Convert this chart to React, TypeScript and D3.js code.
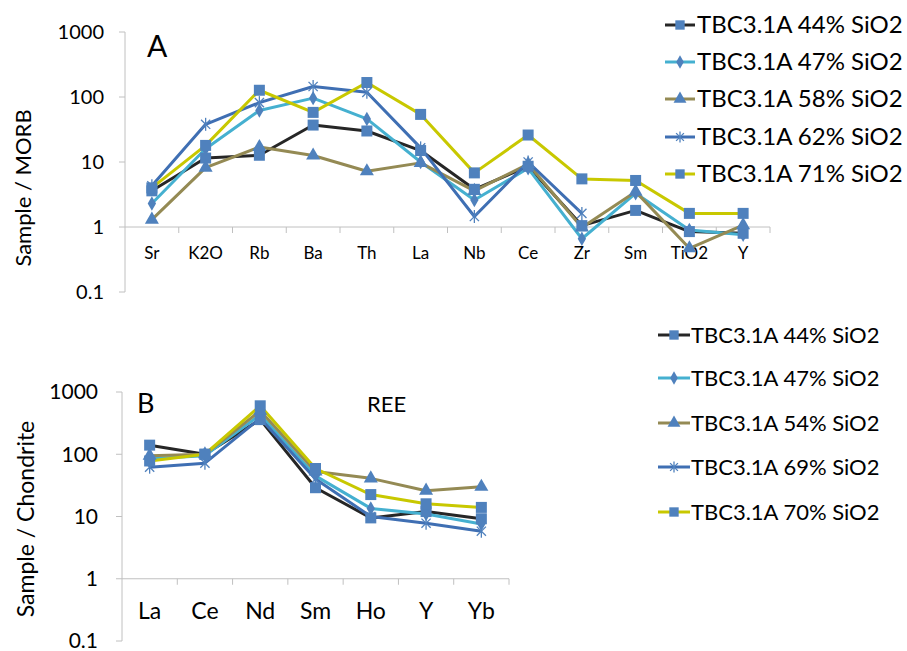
import React from 'react';
import * as d3 from 'd3';

// panel A: trace elements normalised to MORB
const catsA = ['Sr', 'K2O', 'Rb', 'Ba', 'Th', 'La', 'Nb', 'Ce', 'Zr', 'Sm', 'TiO2', 'Y'];
const a44 = [3.6, 11.5, 12.7, 37, 30, 15, 3.8, 8.6, 1.05, 1.8, 0.85, 0.8];
const a47 = [2.3, 16, 62, 96, 46, 10, 2.6, 8, 0.66, 3.3, 0.9, 0.76];
const a58 = [1.3, 8.2, 17, 12.6, 7.2, 9.7, 3.6, 9.3, 0.98, 3.5, 0.47, 1.07];
const a62 = [4.3, 38, 82, 145, 118, 16.5, 1.45, 10, 1.62, null, null, null];
const a71 = [4.0, 18, 127, 58, 167, 54, 6.8, 26, 5.5, 5.2, 1.62, 1.62];
const labelsA = ['TBC3.1A 44% SiO2', 'TBC3.1A 47% SiO2', 'TBC3.1A 58% SiO2', 'TBC3.1A 62% SiO2', 'TBC3.1A 71% SiO2'];

// panel B: REE normalised to chondrite
const catsB = ['La', 'Ce', 'Nd', 'Sm', 'Ho', 'Y', 'Yb'];
const b44 = [140, 100, 360, 29, 9.5, 12, 9.2];
const b47 = [85, 95, 430, 45, 13.5, 11, 7.6];
const b54 = [95, 100, 500, 53, 41, 26, 30];
const b69 = [62, 72, 380, 40, 10, 7.8, 5.8];
const b70 = [78, 100, 600, 59, 22.5, 16, 14];
const labelsB = ['TBC3.1A 44% SiO2', 'TBC3.1A 47% SiO2', 'TBC3.1A 54% SiO2', 'TBC3.1A 69% SiO2', 'TBC3.1A 70% SiO2'];

const yTicks = [0.1, 1, 10, 100, 1000];

const lineColors = ['#262626', '#45b0d0', '#948a54', '#3f6fb3', '#c8c800'];
const markerTypes = ['square', 'diamond', 'triangle', 'star', 'square'];
const markerFill = '#4f81bd';
const axisColor = '#c0c0c0';
const font = 'Lato, "Open Sans", sans-serif';

const Marker = ({ type, x, y, s = 1 }) => {
  if (type === 'square') {
    const h = 5.5 * s;
    return <rect x={x - h} y={y - h} width={h * 2} height={h * 2} fill={markerFill} />;
  }
  if (type === 'star') {
    const r = 6.5 * s;
    const c = r * Math.cos(Math.PI / 4);
    return (
      <g stroke={markerFill} strokeWidth={1.3}>
        <line x1={x} y1={y - r} x2={x} y2={y + r} />
        <line x1={x - c} y1={y - c} x2={x + c} y2={y + c} />
        <line x1={x - c} y1={y + c} x2={x + c} y2={y - c} />
      </g>
    );
  }
  const sym = type === 'diamond' ? d3.symbolDiamond : d3.symbolTriangle;
  const size = type === 'diamond' ? 60 * s : 85 * s;
  return <path d={d3.symbol(sym, size)()} transform={`translate(${x},${y})`} fill={markerFill} />;
};

const Panel = ({ cats, series, box, letter, letterPos, extra, yTitle, catFont, tickFont, titleFont, catY, tickX }) => {
  const x = d3.scaleBand().domain(cats).range([box.left, box.right]);
  const y = d3.scaleLog().domain([0.1, 1000]).range([box.bottom, box.top]);
  const line = d3.line()
    .defined((d) => d != null)
    .x((d, i) => x(cats[i]) + x.bandwidth() / 2)
    .y((d) => y(d));
  const baseY = y(1);
  return (
    <g>
      {/* axes */}
      <line x1={box.left} y1={box.top} x2={box.left} y2={box.bottom} stroke={axisColor} />
      {yTicks.map((t) => (
        <g key={t}>
          <line x1={box.left - 6} x2={box.left} y1={y(t)} y2={y(t)} stroke={axisColor} />
          <text x={tickX} y={y(t)} dy="0.35em" textAnchor="end" fontSize={tickFont} fill="#000">{t}</text>
        </g>
      ))}
      <line x1={box.left} y1={baseY} x2={box.right} y2={baseY} stroke={axisColor} />
      {cats.map((c) => (
        <line key={c} x1={x(c) + x.bandwidth()} x2={x(c) + x.bandwidth()} y1={baseY} y2={baseY + 6} stroke={axisColor} />
      ))}
      {cats.map((c) => (
        <text key={c} x={x(c) + x.bandwidth() / 2} y={catY} textAnchor="middle" fontSize={catFont} fill="#000">{c}</text>
      ))}
      <text transform={`translate(${yTitle.x},${yTitle.y}) rotate(-90)`} textAnchor="middle" fontSize={titleFont} fill="#000">{yTitle.text}</text>
      <text x={letterPos.x} y={letterPos.y} fontSize={letterPos.size} fill="#000">{letter}</text>
      {extra}
      {/* series */}
      {series.map((s, k) => (
        <path key={k} d={line(s)} fill="none" stroke={lineColors[k]} strokeWidth={3} strokeLinejoin="round" />
      ))}
      {series.map((s, k) => (
        <g key={k}>
          {s.map((v, i) => v == null ? null : (
            <Marker key={i} type={markerTypes[k]} x={x(cats[i]) + x.bandwidth() / 2} y={y(v)} />
          ))}
        </g>
      ))}
    </g>
  );
};

const Legend = ({ labels, x0, x1, tx, ys, fontSize }) => (
  <g>
    {labels.map((l, k) => (
      <g key={l}>
        <line x1={x0} x2={x1} y1={ys[k]} y2={ys[k]} stroke={lineColors[k]} strokeWidth={3} />
        <Marker type={markerTypes[k]} x={(x0 + x1) / 2} y={ys[k]} s={0.85} />
        <text x={tx} y={ys[k]} dy="0.35em" fontSize={fontSize} fill="#000">{l}</text>
      </g>
    ))}
  </g>
);

export default function App() {
  return (
    <svg width={907} height={651} style={{ position: 'absolute', left: 0, top: 0, background: '#fff' }} fontFamily={font}>
      <rect width={907} height={651} fill="#fff" />
      <Panel
        cats={catsA}
        series={[a44, a47, a58, a62, a71]}
        box={{ left: 125, right: 770, top: 32, bottom: 292 }}
        letter="A"
        letterPos={{ x: 147, y: 57, size: 30 }}
        yTitle={{ x: 31, y: 188, text: 'Sample / MORB' }}
        catFont={17}
        tickFont={20}
        titleFont={22}
        catY={259}
        tickX={104}
      />
      <Panel
        cats={catsB}
        series={[b44, b47, b54, b69, b70]}
        box={{ left: 122, right: 509, top: 392, bottom: 641 }}
        letter="B"
        letterPos={{ x: 137, y: 413, size: 27 }}
        extra={<text x={367} y={412} fontSize={22} fill="#000">REE</text>}
        yTitle={{ x: 34, y: 519, text: 'Sample / Chondrite' }}
        catFont={23}
        tickFont={21}
        titleFont={23}
        catY={619}
        tickX={98}
      />
      <Legend labels={labelsA} x0={665} x1={695} tx={697} ys={[25, 62, 99, 137, 174]} fontSize={24} />
      <Legend labels={labelsB} x0={658} x1={690} tx={691} ys={[335, 378, 423, 467, 512]} fontSize={22} />
    </svg>
  );
}
